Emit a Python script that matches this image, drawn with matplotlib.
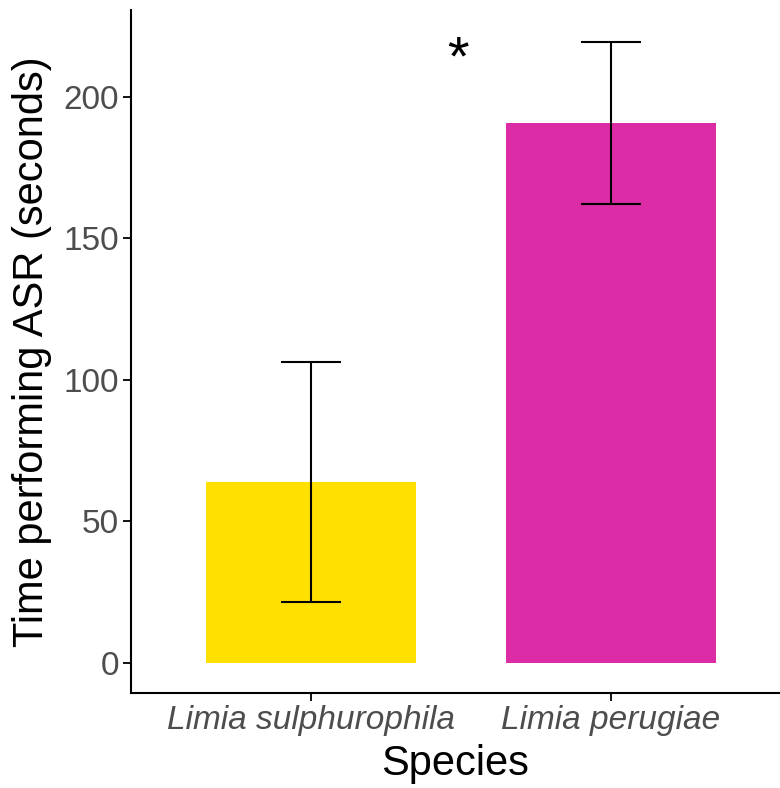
import matplotlib.pyplot as plt
import numpy as np

species = ["Limia sulphurophila", "Limia perugiae"]
means = [64.0, 190.8]
lower = [21.6, 162.2]
upper = [106.4, 219.4]
colors = ["#FFE000", "#DC2CA5"]
star_x = 0.49
star_y = 213

plt.rcParams['font.family'] = ['Liberation Sans', 'DejaVu Sans']

fig = plt.figure(figsize=(7.8, 7.88), dpi=100)
ax = fig.add_axes([131/780, 1 - 693/788, 649/780, 683/788])

x = np.arange(len(species))
m = np.array(means)
yerr = [m - np.array(lower), np.array(upper) - m]
ax.bar(x, means, width=0.7, color=colors, zorder=1)
ax.errorbar(x, means, yerr=yerr, fmt='none', ecolor='black',
            elinewidth=1.5, capsize=21.5, capthick=1.5, zorder=2)
ax.text(star_x, star_y, "*", fontsize=40, ha='center', va='center')

ax.set_xlim(-0.6, 1.565)
ax.set_ylim(-10.6, 230.7)
ax.set_xticks(x)
ax.set_xticklabels(species, fontstyle='italic')
ax.set_yticks([0, 50, 100, 150, 200])

for s in ['top', 'right']:
    ax.spines[s].set_visible(False)
for s in ['left', 'bottom']:
    ax.spines[s].set_linewidth(1.5)
ax.tick_params(axis='both', length=5.5, width=1.3, labelsize=24,
               labelcolor='#4D4D4D', pad=3)

ax.set_xlabel("Species", fontsize=30, labelpad=6)
ax.set_ylabel("Time performing ASR (seconds)", fontsize=30, labelpad=8)

plt.savefig('out.png', dpi=100)
